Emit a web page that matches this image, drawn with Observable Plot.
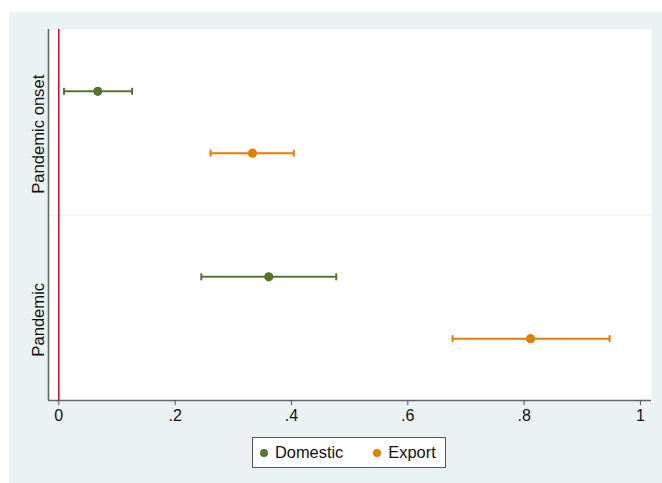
<!DOCTYPE html>
<html>
<head>
<meta charset="utf-8">
<script src="https://cdn.jsdelivr.net/npm/d3@7"></script>
<script src="https://cdn.jsdelivr.net/npm/@observablehq/plot@0.6"></script>
<style>
  html, body { margin: 0; padding: 0; background: #ffffff; }
  #wrap { position: relative; width: 662px; height: 483px; font-family: "Liberation Sans", Arial, sans-serif; }
  #bg { position: absolute; left: 9px; top: 12px; width: 653px; height: 471px; background: #EAF2F3; }
  #chart { position: absolute; left: 0; top: 0; }
  #legend {
    position: absolute; left: 252px; top: 437px; width: 194px; height: 31px;
    box-sizing: border-box; border: 1px solid #555; background: #fff;
    display: flex; align-items: center; font-size: 16.4px; color: #111;
  }
  .item { display: flex; align-items: center; }
  .sw { width: 8px; height: 8px; border-radius: 50%; display: inline-block; margin-right: 7px; }
</style>
</head>
<body>
<div id="wrap">
  <div id="bg"></div>
  <div id="chart"></div>
  <div id="legend"></div>
</div>
<script>
// Coefficient estimates with 95% confidence intervals
const categories = ["Pandemic onset", "Pandemic"];
const series = ["Domestic", "Export"];
const colors = ["#55752F", "#E37E00"];

const domesticEst = [0.067, 0.361];
const domesticLo  = [0.009, 0.245];
const domesticHi  = [0.126, 0.477];

const exportEst = [0.333, 0.811];
const exportLo  = [0.261, 0.677];
const exportHi  = [0.404, 0.947];

const xTicks = [0, 0.2, 0.4, 0.6, 0.8, 1];
const xTickLabels = ["0", ".2", ".4", ".6", ".8", "1"];

// One row per (category, series); series are offset within each category band
const offset = 1 / 6;
const rows = [];
categories.forEach((c, i) => {
  rows.push({category: c, series: "Domestic", pos: i + 1 - offset, est: domesticEst[i], lo: domesticLo[i], hi: domesticHi[i]});
  rows.push({category: c, series: "Export",   pos: i + 1 + offset, est: exportEst[i],   lo: exportLo[i],   hi: exportHi[i]});
});

// Vertical cap used at both ends of each interval
const capSymbol = {
  draw(context, size) {
    const r = Math.sqrt(size / Math.PI);
    context.moveTo(0, -r);
    context.lineTo(0, r);
  }
};

const xMin = -0.0177, xMax = 1.019;
const axisColor = "#666";

const chart = Plot.plot({
  width: 662,
  height: 430,
  marginLeft: 48,
  marginRight: 11,
  marginTop: 29,
  marginBottom: 30,
  style: {background: "transparent", fontFamily: "\"Liberation Sans\", Arial, sans-serif", color: "#111"},
  x: {domain: [xMin, xMax]},
  y: {domain: [0.5, 2.5], reverse: true},
  color: {domain: series, range: colors},
  marks: [
    Plot.frame({fill: "white", stroke: "none"}),
    // divider between the two categories
    Plot.ruleY([1.5], {stroke: "#E4ECEC", strokeWidth: 1}),
    // reference line at zero
    Plot.ruleX([0], {stroke: "#CC1136", strokeWidth: 1.6}),
    // confidence intervals
    Plot.link(rows, {x1: "lo", x2: "hi", y1: "pos", y2: "pos", stroke: "series", strokeWidth: 2}),
    Plot.dot(rows, {x: "lo", y: "pos", r: 3.5, symbol: capSymbol, stroke: "series", strokeWidth: 2, fill: "none"}),
    Plot.dot(rows, {x: "hi", y: "pos", r: 3.5, symbol: capSymbol, stroke: "series", strokeWidth: 2, fill: "none"}),
    // point estimates
    Plot.dot(rows, {x: "est", y: "pos", r: 4.6, fill: "series", stroke: "none"}),
    // axis lines
    Plot.ruleX([xMin], {stroke: axisColor, strokeWidth: 1.6}),
    Plot.ruleY([2.5], {stroke: axisColor, strokeWidth: 1.6}),
    Plot.axisX(xTicks, {
      tickFormat: (d, i) => xTickLabels[i],
      tickSize: 5, tickPadding: 4, fontSize: 16, stroke: "#555", label: null
    }),
    Plot.axisY([1, 2], {
      tickFormat: (d, i) => categories[i],
      tickSize: 0, tickRotate: -90, tickPadding: 5, fontSize: 16.6, dy: 12, label: null
    })
  ]
});
document.getElementById("chart").appendChild(chart);

// Legend box
const legend = document.getElementById("legend");
series.forEach((s, i) => {
  const item = document.createElement("span");
  item.className = "item";
  item.style.marginLeft = i === 0 ? "7px" : "30px";
  const sw = document.createElement("span");
  sw.className = "sw";
  sw.style.background = colors[i];
  item.appendChild(sw);
  item.appendChild(document.createTextNode(s));
  legend.appendChild(item);
});
</script>
</body>
</html>
